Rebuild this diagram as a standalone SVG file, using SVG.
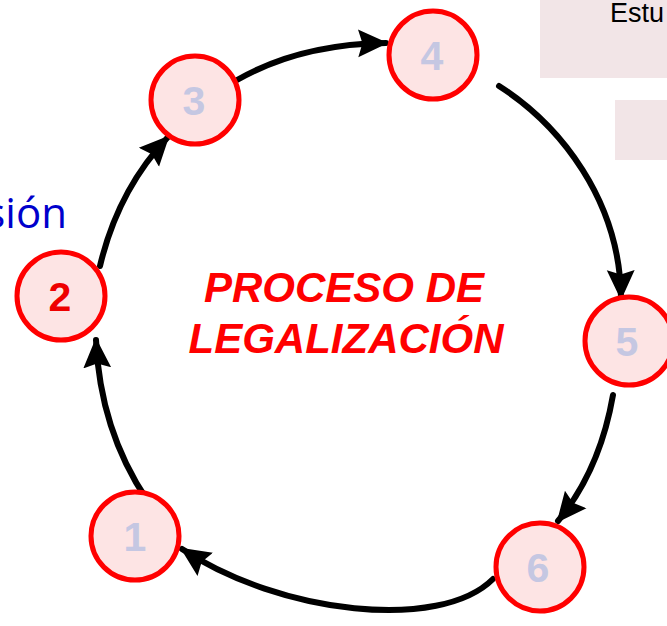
<svg xmlns="http://www.w3.org/2000/svg" width="667" height="626" viewBox="0 0 667 626">
<style>
.node circle{fill:#fde4e4;stroke:#ff0000;stroke-width:5}
.num{font-family:"Liberation Sans",Arial,sans-serif;font-weight:bold;font-size:41px;fill:#c5c7e2;text-anchor:middle}
.num2{fill:#ee0000}
.conn path{fill:none;stroke:#000;stroke-width:6;stroke-linecap:round}
.title{font-family:"Liberation Sans",Arial,sans-serif;font-weight:bold;font-style:italic;font-size:42px;fill:#ff0000;text-anchor:middle}
</style>
<defs>
<marker id="ah" markerUnits="userSpaceOnUse" markerWidth="30" markerHeight="30" viewBox="0 0 28 28" refX="26" refY="14" orient="auto">
<path d="M0,1 L28,14 L0,27 L4,14 z" fill="#000"/>
</marker>
</defs>
<rect x="540" y="0" width="127" height="78" fill="#f2e5e7"/>
<rect x="615" y="100" width="52" height="60" fill="#f2e5e7"/>
<text x="610" y="22" font-family="Liberation Sans, Arial, sans-serif" font-size="27" fill="#000">Estu</text>
<text x="67" y="228" font-family="Open Sans, sans-serif" font-size="42" fill="#0000cc" text-anchor="end">sión</text>
<g id="connectors" class="conn">
<path d="M147,500 Q100,430 96,340" marker-end="url(#ah)"/>
<path d="M100,266 Q118,190 168,137" marker-end="url(#ah)"/>
<path d="M237,80 Q300,44 386,43" marker-end="url(#ah)"/>
<path d="M499,86 C560,125 620,200 621,298" marker-end="url(#ah)"/>
<path d="M613,395 Q600,470 558,521" marker-end="url(#ah)"/>
<path d="M493,579 C440,632 280,614 182,549" stroke-width="7" marker-end="url(#ah)"/>
</g>
<g id="node1" class="node"><circle cx="135" cy="536" r="44"/><text class="num" x="135" y="551">1</text></g>
<g id="node2" class="node"><circle cx="61" cy="296" r="44"/><text class="num num2" x="60" y="311">2</text></g>
<g id="node3" class="node"><circle cx="195" cy="100" r="44"/><text class="num" x="194" y="115">3</text></g>
<g id="node4" class="node"><circle cx="433" cy="55" r="44"/><text class="num" x="432" y="70">4</text></g>
<g id="node5" class="node"><circle cx="629" cy="341" r="44"/><text class="num" x="627" y="356">5</text></g>
<g id="node6" class="node"><circle cx="540" cy="567" r="44"/><text class="num" x="538" y="582">6</text></g>
<g id="title">
<text class="title" x="344" y="302">PROCESO DE</text>
<text class="title" x="346" y="353">LEGALIZACIÓN</text>
</g>
</svg>
